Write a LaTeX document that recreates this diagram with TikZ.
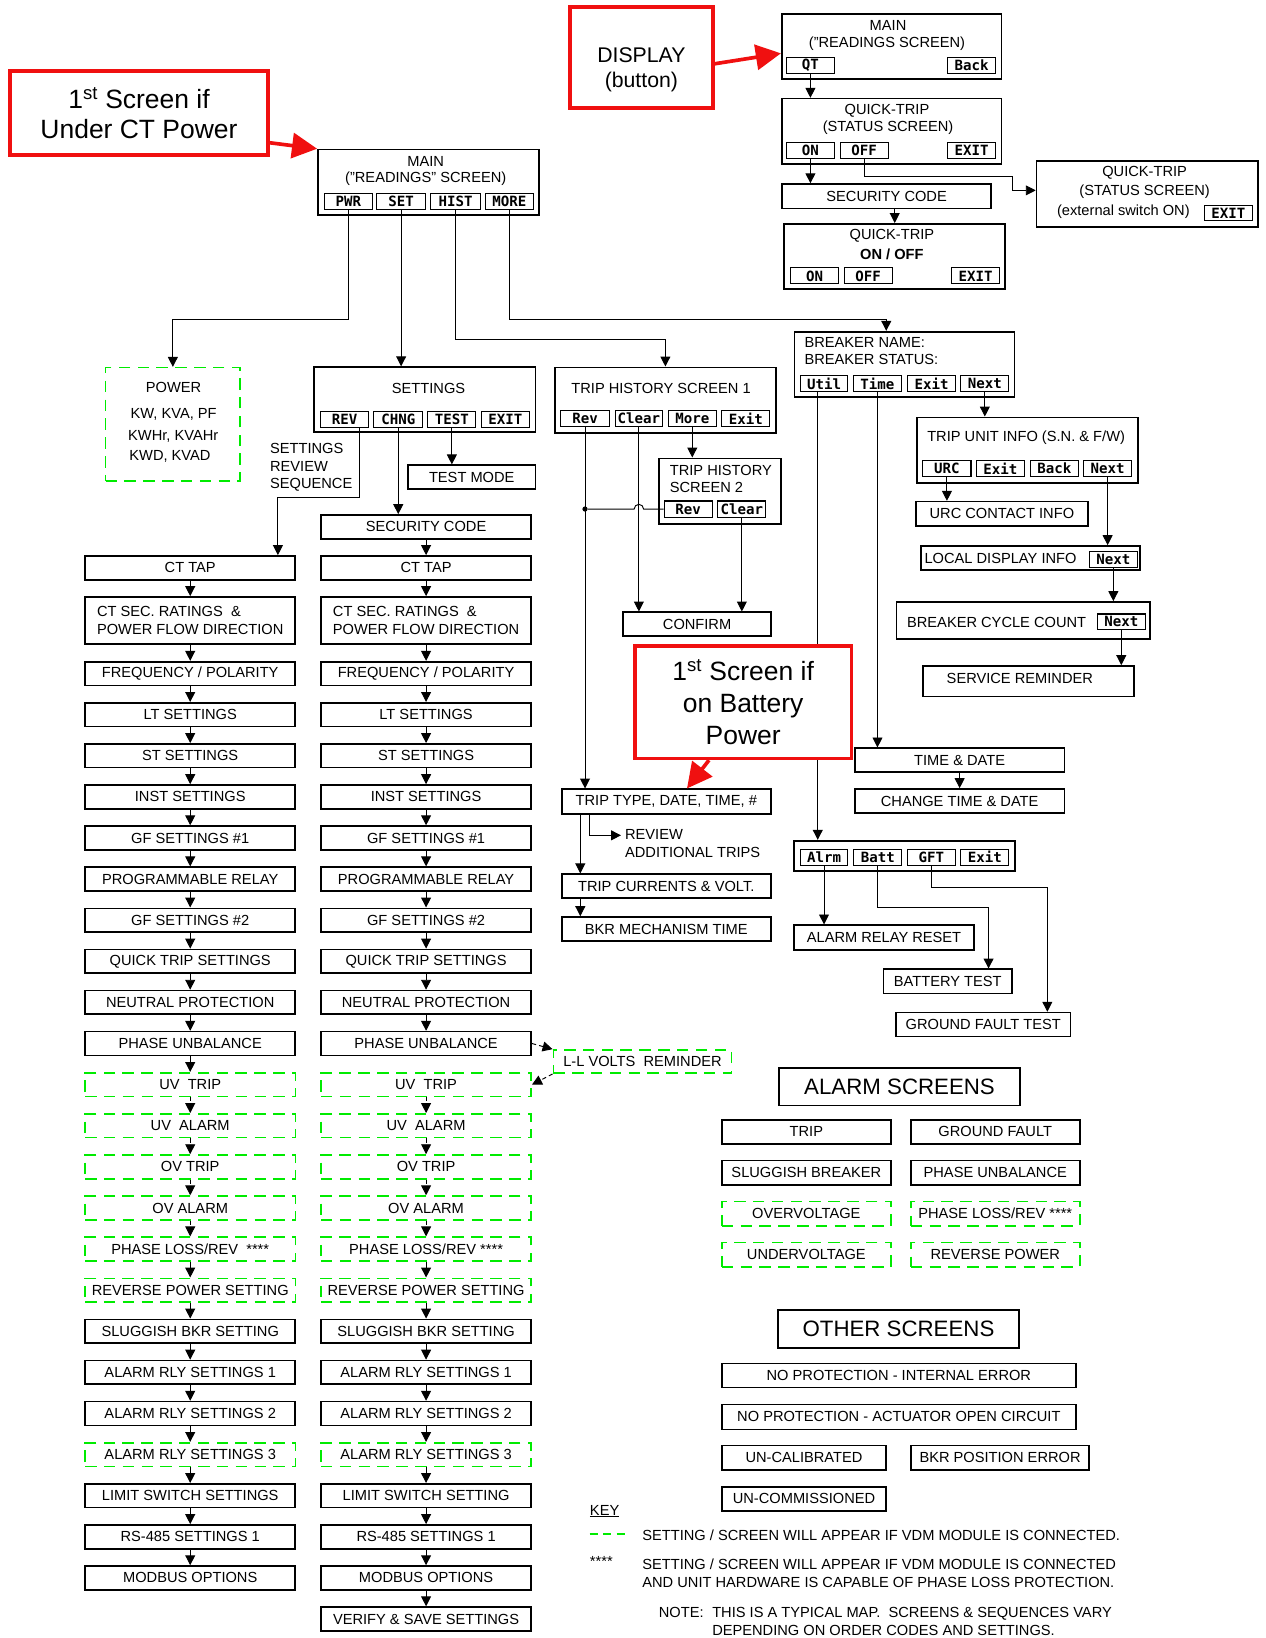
\documentclass[tikz,border=0pt]{standalone}
\usepackage{fontspec}
\setmainfont{Liberation Sans}
\newfontfamily\lcdfont{DejaVu Sans Mono}
\usetikzlibrary{arrows.meta}

\definecolor{vdmgreen}{RGB}{0,235,0}
\definecolor{callred}{RGB}{240,16,16}

\tikzset{
	box font/.style={font=\fontsize{14}{16.9}\selectfont},
	scr/.style={draw, line width=1.6pt, inner sep=0pt, box font},
	colbox/.style={minimum width=201pt, minimum height=22.7pt},
	vdm/.style={scr, draw=vdmgreen, line width=1.5pt, dash pattern=on 11pt off 7pt},
	btn/.style={draw, line width=1pt, inner sep=0pt, minimum width=46pt, minimum height=15.4pt, font=\lcdfont\bfseries\fontsize{13.5}{14}\selectfont},
	lbl/.style={inner sep=0pt, box font},
	link/.style={line width=0.9pt, -{Triangle[length=9.5pt,width=9.5pt]}},
	vdmlink/.style={link, dash pattern=on 4pt off 3pt},
	callout/.style={draw=callred, line width=3.5pt, fill=white, inner sep=0pt, align=center},
	callarrow/.style={draw=callred, line width=3.5pt, -{Triangle[length=24pt,width=24pt]}},
	title/.style={scr, minimum width=230pt, minimum height=36pt, font=\fontsize{21.3}{25}\selectfont}
}
\tikzset{every picture/.style={line width=0.9pt}}

\begin{document}
\begin{tikzpicture}[x=1pt,y=1pt,yscale=-1,xscale=1]
	\useasboundingbox (0,0) rectangle (1210.3,1566);

	%Callout: CT power
	\node[callout, minimum width=246.6pt, minimum height=80.6pt, font=\fontsize{25.3}{28}\selectfont] (ctcall) at (132.9,107.9) {1\textsuperscript{st} Screen if\\Under CT Power};
	%Callout: display button
	\node[callout, minimum width=136.3pt, minimum height=96pt] (dispcall) at (613.2,55) {};
	\node[lbl, align=center, font=\fontsize{20.3}{24}\selectfont] (disptxt) at (613.2,66.7) {DISPLAY\\(button)};

	%Main readings screen (CT power)
	\node[scr, minimum width=211pt, minimum height=62.6pt] (main) at (409.5,174.3) {};
	\node[lbl] (maintitle) at (407,154) {MAIN};
	\node[lbl] (mainsub) at (407,171) {("READINGS" SCREEN)};
	\node[btn] (pwr) at (333,192.25) {PWR};
	\node[btn, minimum width=47pt] (set) at (383.5,192.25) {SET};
	\node[btn, minimum width=47pt] (hist) at (435.5,192.25) {HIST};
	\node[btn] (more) at (487,192.25) {MORE};

	%Main readings screen (display button)
	\node[scr, minimum width=210.2pt, minimum height=62.4pt] (main2) at (852.5,44.6) {};
	\node[lbl] (main2title) at (849,24.8) {MAIN};
	\node[lbl] (main2sub) at (848,41.4) {("READINGS SCREEN)};
	\node[btn] (qt) at (774.8,62.75) {QT};
	\node[btn] (back) at (928.85,62.75) {Back};

	%Quick-trip status
	\node[scr, minimum width=210.2pt, minimum height=62.7pt] (qts) at (852.5,125.65) {};
	\node[lbl] (qtstitle) at (848,105.8) {QUICK-TRIP};
	\node[lbl] (qtssub) at (849,122.4) {(STATUS SCREEN)};
	\node[btn] (qtson) at (774.8,143.85) {ON};
	\node[btn] (qtsoff) at (826.25,143.85) {OFF};
	\node[btn] (qtsexit) at (928.85,143.85) {EXIT};

	\node[scr, minimum width=199.9pt, minimum height=23.2pt] (sc) at (847.65,187.6) {SECURITY CODE};

	\node[scr, minimum width=211.2pt, minimum height=62.6pt] (qtoo) at (855.4,245.3) {};
	\node[lbl] (qtootitle) at (852.7,225.6) {QUICK-TRIP};
	\node[lbl, font=\fontsize{14}{16.9}\selectfont\bfseries] (qtoosub) at (852.7,242.8) {ON / OFF};
	\node[btn] (qtooon) at (778.8,263.75) {ON};
	\node[btn] (qtoooff) at (830,263.75) {OFF};
	\node[btn] (qtooexit) at (932.8,263.75) {EXIT};

	\node[scr, minimum width=212pt, minimum height=63.1pt] (qtext) at (1097,185.75) {};
	\node[lbl] (qtexttitle) at (1094.3,165) {QUICK-TRIP};
	\node[lbl] (qtextsub) at (1094.3,182.9) {(STATUS SCREEN)};
	\node[lbl] (qtextsw) at (1074,202.7) {(external switch ON)};
	\node[btn, minimum width=45.2pt, minimum height=14.4pt] (qtextexit) at (1174.4,203.8) {EXIT};

	%Power
	\node[vdm, minimum width=128.5pt, minimum height=108.5pt] (power) at (165.25,405.75) {};
	\node[lbl] (powtitle) at (166,370.3) {POWER};
	\node[lbl] (powkw) at (166,395.8) {KW, KVA, PF};
	\node[lbl] (powkwh) at (165.6,416.8) {KWHr, KVAHr};
	\node[lbl] (powkwd) at (162.5,436) {KWD, KVAD};

	%Settings
	\node[scr, minimum width=211.5pt, minimum height=62pt] (settings) at (406.25,382) {};
	\node[lbl] (settitle) at (409.7,371) {SETTINGS};
	\node[btn] (rev) at (329.5,400.75) {REV};
	\node[btn, minimum width=46.5pt] (chng) at (380.75,400.75) {CHNG};
	\node[btn] (test) at (432,400.75) {TEST};
	\node[btn] (setexit) at (483.15,400.75) {EXIT};
	\node[lbl, align=left, anchor=west] (revnote) at (257.8,446.85) {SETTINGS\\REVIEW\\SEQUENCE};
	\node[scr, minimum width=122pt, minimum height=22.7pt] (testmode) at (451,456.15) {TEST MODE};

	\node[scr, colbox] (sc2) at (407.35,503.7) {SECURITY CODE};
	\node[scr, colbox] (ct1) at (181.85,542.85) {CT TAP};
	\node[scr, colbox] (ct2) at (407.35,542.85) {CT TAP};
	\node[scr, colbox, minimum height=45pt, align=left] (cs1) at (181.85,593.2) {CT SEC. RATINGS~~\&\\POWER FLOW DIRECTION};
	\node[scr, colbox, minimum height=45pt, align=left] (cs2) at (407.35,593.2) {CT SEC. RATINGS~~\&\\POWER FLOW DIRECTION};

	%Review sequence column
	\foreach \k/\txt in {0/{FREQUENCY / POLARITY},1/LT SETTINGS,2/ST SETTINGS,3/INST SETTINGS,4/GF SETTINGS \#1,5/PROGRAMMABLE RELAY,6/GF SETTINGS \#2,7/QUICK TRIP SETTINGS,8/NEUTRAL PROTECTION,9/PHASE UNBALANCE,16/SLUGGISH BKR SETTING,17/ALARM RLY SETTINGS 1,18/ALARM RLY SETTINGS 2,20/LIMIT SWITCH SETTINGS,21/RS-485 SETTINGS 1,22/MODBUS OPTIONS}
		\node[scr, colbox] (a\k) at (181.85,{643.95+39.3*\k}) {\txt};
	\foreach \k/\txt in {10/UV~~TRIP,11/UV~~ALARM,12/OV TRIP,13/OV ALARM,14/{PHASE LOSS/REV~~****},15/REVERSE POWER SETTING,19/ALARM RLY SETTINGS 3}
		\node[vdm, colbox] (a\k) at (181.85,{643.95+39.3*\k}) {\txt};

	%Change sequence column
	\foreach \k/\txt in {0/{FREQUENCY / POLARITY},1/LT SETTINGS,2/ST SETTINGS,3/INST SETTINGS,4/GF SETTINGS \#1,5/PROGRAMMABLE RELAY,6/GF SETTINGS \#2,7/QUICK TRIP SETTINGS,8/NEUTRAL PROTECTION,9/PHASE UNBALANCE,16/SLUGGISH BKR SETTING,17/ALARM RLY SETTINGS 1,18/ALARM RLY SETTINGS 2,20/LIMIT SWITCH SETTING,21/RS-485 SETTINGS 1,22/MODBUS OPTIONS,23/VERIFY \& SAVE SETTINGS}
		\node[scr, colbox] (b\k) at (407.35,{643.95+39.3*\k}) {\txt};
	\foreach \k/\txt in {10/UV~~TRIP,11/UV~~ALARM,12/OV TRIP,13/OV ALARM,14/{PHASE LOSS/REV~****},15/REVERSE POWER SETTING,19/ALARM RLY SETTINGS 3}
		\node[vdm, colbox] (b\k) at (407.35,{643.95+39.3*\k}) {\txt};

	\node[vdm, minimum width=170.5pt, minimum height=22.2pt] (ll) at (614.25,1014.9) {L-L VOLTS~~REMINDER};

	%Trip history
	\node[scr, minimum width=211.5pt, minimum height=62.5pt] (th1) at (636.15,382.45) {};
	\node[lbl] (th1title) at (632,371.3) {TRIP HISTORY SCREEN 1};
	\node[btn, minimum width=46.6pt] (threv) at (559.3,400.25) {Rev};
	\node[btn, minimum width=45.6pt] (thclr) at (610.8,400.25) {Clear};
	\node[btn] (thmore) at (661.85,400.25) {More};
	\node[btn] (thexit) at (713,400.25) {Exit};

	\node[scr, minimum width=116.8pt, minimum height=62.5pt] (th2) at (688.4,469.45) {};
	\node[lbl, align=left, anchor=west, font=\fontsize{14}{17.2}\selectfont] (th2title) at (640,457.9) {TRIP HISTORY\\SCREEN 2};
	\node[btn] (th2rev) at (657.85,486.65) {Rev};
	\node[btn] (th2clr) at (709.25,486.65) {Clear};
	\node[circle, fill, inner sep=0pt, minimum size=5pt] (thdot) at (threv.south |- th2rev.west) {};

	\node[scr, minimum width=141.1pt, minimum height=22.6pt] (confirm) at (666.45,596.7) {CONFIRM};

	\node[scr, minimum width=200pt, minimum height=23.6pt] (tt) at (637,766.4) {TRIP TYPE, DATE, TIME, \#};
	\node[lbl, align=left, anchor=west] (review) at (597.2,806.7) {REVIEW\\ ADDITIONAL TRIPS};
	\node[scr, minimum width=200pt, minimum height=23pt] (tc) at (637,847.3) {TRIP CURRENTS \& VOLT.};
	\node[scr, minimum width=200pt, minimum height=22.9pt] (bkm) at (637,888.15) {BKR MECHANISM TIME};

	%Breaker info
	\node[scr, minimum width=210.2pt, minimum height=62.7pt] (bkr) at (864.8,348.45) {};
	\node[lbl, align=left, anchor=west] (bkrtitle) at (768.7,335.75) {BREAKER NAME:\\BREAKER STATUS:};
	\node[btn, minimum width=45.6pt] (util) at (787.8,366.85) {Util};
	\node[btn] (bktime) at (838.9,366.85) {Time};
	\node[btn] (bkexit) at (890.7,366.85) {Exit};
	\node[btn] (bknext) at (941.55,366.85) {Next};

	\node[scr, minimum width=210.7pt, minimum height=62.5pt] (tui) at (982.35,430.25) {};
	\node[lbl] (tuititle) at (981,418.7) {TRIP UNIT INFO (S.N. \& F/W)};
	\node[btn] (tuiurc) at (905.3,448.05) {URC};
	\node[btn, minimum width=45.5pt] (tuiexit) at (956.45,448.05) {Exit};
	\node[btn] (tuiback) at (1008,448.05) {Back};
	\node[btn] (tuinext) at (1058.95,448.05) {Next};

	\node[scr, minimum width=164.3pt, minimum height=23.3pt] (urc) at (957.85,491.25) {URC CONTACT INFO};

	\node[scr, minimum width=209.5pt, minimum height=23pt] (ldi) at (985.25,533.5) {};
	\node[lbl, anchor=west] (lditxt) at (883.5,533.8) {LOCAL DISPLAY INFO};
	\node[btn, minimum width=45.6pt] (ldinext) at (1064.4,534.7) {Next};

	\node[scr, minimum width=242.5pt, minimum height=35.4pt] (bcc) at (978.25,593.2) {};
	\node[lbl, anchor=west] (bcctxt) at (866.8,594.7) {BREAKER CYCLE COUNT};
	\node[btn, minimum height=14.6pt] (bccnext) at (1072,594.3) {Next};

	\node[scr, minimum width=201.3pt, minimum height=29.3pt] (svc) at (983.35,651.35) {};
	\node[lbl] (svctxt) at (975,648.5) {SERVICE REMINDER};

	\node[scr, minimum width=200.5pt, minimum height=22.6pt] (td) at (917.45,726.7) {TIME \& DATE};
	\node[scr, minimum width=200.5pt, minimum height=22.9pt] (ctd) at (917.45,765.75) {CHANGE TIME \& DATE};

	\node[scr, minimum width=211.1pt, minimum height=29.3pt] (albar) at (864.85,818.35) {};
	\node[btn, minimum width=45.6pt, minimum height=15pt] (alrm) at (787.8,819.5) {Alrm};
	\node[btn, minimum width=45.6pt, minimum height=15pt] (batt) at (839.2,819.5) {Batt};
	\node[btn, minimum width=45.6pt, minimum height=15pt] (gft) at (890.5,819.5) {GFT};
	\node[btn, minimum height=15pt] (alexit) at (941.55,819.5) {Exit};

	\node[scr, minimum width=171.7pt, minimum height=23.6pt] (arr) at (845.15,896.4) {ALARM RELAY RESET};
	\node[scr, minimum width=122.8pt, minimum height=23pt] (bt) at (906.1,938.2) {BATTERY TEST};
	\node[scr, minimum width=166.9pt, minimum height=22.9pt] (gftest) at (940.05,979.55) {GROUND FAULT TEST};

	%Alarm screens
	\node[title] (alarmhdr) at (860,1039) {ALARM SCREENS};
	\foreach \r/\lt/\rt in {0/TRIP/GROUND FAULT,1/SLUGGISH BREAKER/PHASE UNBALANCE}{
		\node[scr, minimum width=161.8pt, minimum height=23.2pt] (alL\r) at (770.9,{1082.1+39.13*\r}) {\lt};
		\node[scr, minimum width=161.6pt, minimum height=23.2pt] (alR\r) at (951.5,{1082.1+39.13*\r}) {\rt};
	}
	\foreach \r/\lt/\rt in {2/OVERVOLTAGE/{PHASE LOSS/REV ****},3/UNDERVOLTAGE/REVERSE POWER}{
		\node[vdm, minimum width=161.8pt, minimum height=23.2pt] (alL\r) at (770.9,{1082.1+39.13*\r}) {\lt};
		\node[vdm, minimum width=161.6pt, minimum height=23.2pt] (alR\r) at (951.5,{1082.1+39.13*\r}) {\rt};
	}

	%Other screens
	\node[title, minimum height=36.6pt] (otherhdr) at (859,1270.7) {OTHER SCREENS};
	\node[scr, minimum width=338.7pt, minimum height=23.2pt] (npint) at (859.35,1315) {NO PROTECTION - INTERNAL ERROR};
	\node[scr, minimum width=338.7pt, minimum height=23.9pt] (npact) at (859.35,1354.55) {NO PROTECTION - ACTUATOR OPEN CIRCUIT};
	\node[scr, minimum width=157.3pt, minimum height=23.3pt] (uncal) at (768.65,1393.65) {UN-CALIBRATED};
	\node[scr, minimum width=169.8pt, minimum height=23.3pt] (bkrpos) at (956.1,1393.65) {BKR POSITION ERROR};
	\node[scr, minimum width=157.3pt, minimum height=23.5pt] (uncom) at (768.65,1433.05) {UN-COMMISSIONED};

	%Key
	\node[lbl, anchor=west] (keyhd) at (563.6,1444.8) {\underline{KEY}};
	\coordinate (keyA) at (563.6,1466.5);
	\coordinate (keyB) at (597.2,1466.5);
	\draw[vdmgreen, line width=1.5pt, dash pattern=on 8pt off 5pt] (keyA) -- (keyB);
	\node[lbl, anchor=west] (key1) at (613.7,1467.5) {SETTING / SCREEN WILL APPEAR IF VDM MODULE IS CONNECTED.};
	\node[lbl, anchor=west] (keystar) at (563.6,1493) {****};
	\node[lbl, anchor=west, align=left, font=\fontsize{14}{17.2}\selectfont] (key2) at (613.7,1503.8) {SETTING / SCREEN WILL APPEAR IF VDM MODULE IS CONNECTED\\AND UNIT HARDWARE IS CAPABLE OF PHASE LOSS PROTECTION.};
	\node[lbl, anchor=west] (notehd) at (629.5,1542) {NOTE:};
	\node[lbl, anchor=west, align=left, font=\fontsize{14}{17}\selectfont] (note) at (680.5,1550.5) {THIS IS A TYPICAL MAP.~~SCREENS \& SEQUENCES VARY\\DEPENDING ON ORDER CODES AND SETTINGS.};

	%Connectors from main screen
	\coordinate (pwrbend) at (165.25,305);
	\draw[link] (pwr.south) |- (pwrbend) -- (power.north);
	\draw[link] (set.south) -- (set.south |- settings.north);
	\coordinate (histbend) at (636.15,324.4);
	\draw[link] (hist.south) |- (histbend) -- (th1.north);
	\coordinate (morebend) at (847.3,305.3);
	\draw[link] (more.south) |- (morebend) -- (morebend |- bkr.north);

	%Connectors quick-trip
	\draw[link] (qt.south) -- (qt.south |- qts.north);
	\draw[link] (qtson.south) -- (qtson.south |- sc.north);
	\coordinate (offbend) at (967.6,169);
	\draw[link] (qtsoff.south) |- (offbend) |- ([yshift=-3.75pt]qtext.west);
	\draw[link] (qtoo.north |- sc.south) -- (qtoo.north);

	%Connectors settings
	\coordinate (revfoot) at ([xshift=14.5pt]rev.south);
	\coordinate (revbend) at (265.7,475.5);
	\draw[link] (revfoot) |- (revbend) -- (revbend |- ct1.north);
	\draw[link] (chng.south) -- (chng.south |- sc2.north);
	\draw[link] (test.south) -- (test.south |- testmode.north);
	\draw[link] (sc2) -- (ct2);
	\draw[link] (ct1) -- (cs1);
	\draw[link] (ct2) -- (cs2);
	\draw[link] (cs1) -- (a0);
	\draw[link] (cs2) -- (b0);
	\foreach \k in {0,...,9,14,15,...,21}{
		\pgfmathtruncatemacro{\n}{\k+1}
		\draw[link] (a\k) -- (a\n);
	}
	\foreach \k in {0,...,8,14,15,...,22}{
		\pgfmathtruncatemacro{\n}{\k+1}
		\draw[link] (b\k) -- (b\n);
	}
	\foreach \k in {10,...,13}{
		\pgfmathtruncatemacro{\n}{\k+1}
		\draw[vdmlink] (a\k) -- (a\n);
		\draw[vdmlink] (b\k) -- (b\n);
	}
	\draw[vdmlink] (b9.east) -- (ll.north west);
	\draw[vdmlink] (ll.south west) -- (b10.east);

	%Connectors trip history
	\draw[link] (threv.south) -- (threv.south |- tt.north);
	\draw[link] (thclr.south) -- (thclr.south |- confirm.north);
	\draw[link] (thmore.south) -- (thmore.south |- th2.north);
	\coordinate (hop) at (thclr.south |- th2rev.west);
	\draw (th2rev.west) -- ([xshift=4.5pt]hop) arc (0:-180:4.5) -- (thdot);
	\draw[link] (th2clr.south) -- (th2clr.south |- confirm.north);
	\coordinate (ttfoot) at ([xshift=-82.2pt]tt.south);
	\draw[link] (ttfoot) -- (ttfoot |- tc.north);
	\draw[link] (ttfoot |- tc.south) -- (ttfoot |- bkm.north);
	\coordinate (reviewfoot) at ([xshift=-73pt]tt.south);
	\draw[link] (reviewfoot) |- ([xshift=-3.5pt,yshift=-8.1pt]review.west);

	%Connectors breaker info
	\draw[link] (bknext.south) -- (bknext.south |- tui.north);
	\draw[link] (tuiurc.south) -- (tuiurc.south |- urc.north);
	\draw[link] (tuinext.south) -- (tuinext.south |- ldi.north);
	\draw[link] (ldinext.south) -- (ldinext.south |- bcc.north);
	\draw[link] (bccnext.south) -- (bccnext.south |- svc.north);
	\draw[link] (bktime.south) -- (bktime.south |- td.north);
	\draw[link] (td) -- (ctd);
	\coordinate (utilfoot) at ([xshift=-6pt]util.south);
	\draw[link] (utilfoot) -- (utilfoot |- albar.north);
	\draw[link] (alrm.south) -- (alrm.south |- arr.north);
	\coordinate (battbend) at (945.1,867.4);
	\draw[link] (batt.south) |- (battbend) -- (battbend |- bt.north);
	\coordinate (gftbend) at (1001.3,848.3);
	\draw[link] (gft.south) |- (gftbend) -- (gftbend |- gftest.north);

	%Callout: battery power (over the Util line)
	\node[callout, minimum width=207pt, minimum height=107.4pt, font=\fontsize{25.3}{30.6}\selectfont] (battcall) at (710.5,671.3) {1\textsuperscript{st} Screen if\\on Battery\\Power};

	%Callout arrows
	\draw[callarrow] ([yshift=28.6pt]ctcall.east) -- (main.north west);
	\draw[callarrow] ([yshift=6pt]dispcall.east) -- ([yshift=6.4pt]main2.west);
	\draw[callarrow] ([xshift=-32.7pt]battcall.south) -- ([xshift=19.8pt]tt.north);

\end{tikzpicture}
\end{document}
